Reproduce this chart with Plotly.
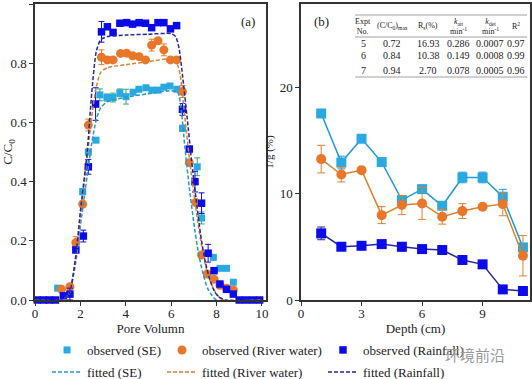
import plotly.graph_objects as go

# ---------------- Panel (a): breakthrough curves ----------------
pv_se = [1.0, 1.8, 2.1, 2.35, 2.69, 2.86, 3.17, 3.44, 3.74, 4.01, 4.32, 4.58, 4.89, 5.15,
         5.42, 5.68, 5.95, 6.25, 6.5, 7.15, 7.34, 7.86, 8.15, 8.44, 8.74]
c_se = [0.04, 0.18, 0.366, 0.50, 0.54, 0.693, 0.684, 0.684, 0.700, 0.687, 0.702, 0.712, 0.717,
        0.709, 0.709, 0.719, 0.723, 0.712, 0.58, 0.45, 0.277, 0.144, 0.107, 0.107, 0.06]
e_se = [0.0, 0.0, 0.01, 0.0, 0.0, 0.02, 0.012, 0.015, 0.013, 0.025, 0.0, 0.0, 0.0, 0.0,
        0.0, 0.0, 0.0, 0.0, 0.01, 0.03, 0.02, 0.0, 0.0, 0.0, 0.0]

pv_rw = [1.17, 1.54, 1.8, 2.1, 2.35, 2.93, 3.19, 3.44, 3.77, 4.04, 4.3, 4.59, 4.87, 5.14,
         5.42, 5.68, 5.97, 6.24, 6.5, 6.8, 7.08, 7.34, 7.59, 7.89, 8.15, 8.44, 8.74]
c_rw = [0.036, 0.045, 0.194, 0.324, 0.591, 0.82, 0.811, 0.811, 0.833, 0.834, 0.825, 0.822,
        0.811, 0.861, 0.876, 0.845, 0.811, 0.811, 0.704, 0.464, 0.329, 0.152, 0.088, 0.07,
        0.05, 0.04, 0.034]
e_rw = [0.0, 0.0, 0.02, 0.01, 0.02, 0.025, 0.01, 0.0, 0.0, 0.0, 0.0, 0.01, 0.0, 0.02,
        0.0, 0.02, 0.0, 0.0, 0.02, 0.0, 0.0, 0.0, 0.0, 0.0, 0.0, 0.0, 0.0]

pv_rf = [0.1, 0.37, 0.63, 0.9, 1.25, 1.54, 1.8, 2.13, 2.35, 2.67, 2.93, 3.19, 3.44, 3.74,
         4.04, 4.3, 4.59, 4.87, 5.14, 5.42, 5.68, 5.97, 6.24, 6.5, 6.8, 7.05, 7.34, 7.63,
         7.89, 8.15, 8.44, 8.74, 9.0, 9.3, 9.6, 9.9]
c_rf = [0.0, 0.0, 0.0, 0.0, 0.014, 0.02, 0.169, 0.216, 0.45, 0.662, 0.906, 0.923, 0.904,
        0.935, 0.937, 0.932, 0.937, 0.935, 0.92, 0.937, 0.937, 0.916, 0.927, 0.644, 0.51,
        0.40, 0.327, 0.158, 0.099, 0.054, 0.036, 0.02, 0.0, 0.0, 0.0, 0.0]
e_rf = [0.0, 0.0, 0.0, 0.0, 0.0, 0.02, 0.0, 0.02, 0.025, 0.055, 0.035, 0.0, 0.0, 0.0,
        0.0, 0.0, 0.01, 0.0, 0.0, 0.0, 0.0, 0.0, 0.0, 0.02, 0.0, 0.035, 0.035, 0.03,
        0.0, 0.0, 0.0, 0.0, 0.0, 0.0, 0.0, 0.0]

fit_x_se = [0, 1.2, 1.5, 1.8, 2.0, 2.3, 2.5, 2.7, 2.9, 3.2, 4.0, 5.0, 6.0, 6.3, 6.45, 6.6,
            6.8, 7.0, 7.2, 7.4, 7.6, 7.8, 8.0, 10.0]
fit_y_se = [0, 0, 0.02, 0.13, 0.25, 0.42, 0.53, 0.61, 0.65, 0.67, 0.685, 0.697, 0.707, 0.70,
            0.64, 0.52, 0.38, 0.26, 0.16, 0.09, 0.04, 0.015, 0.0, 0.0]
fit_x_rw = [0, 1.2, 1.5, 1.8, 2.0, 2.3, 2.5, 2.7, 2.9, 3.2, 4.0, 5.0, 6.0, 6.25, 6.4, 6.6,
            6.8, 7.0, 7.2, 7.4, 7.6, 7.8, 8.0, 8.3, 10.0]
fit_y_rw = [0, 0, 0.02, 0.14, 0.28, 0.48, 0.62, 0.72, 0.77, 0.785, 0.795, 0.805, 0.815, 0.80,
            0.76, 0.62, 0.48, 0.36, 0.25, 0.16, 0.09, 0.05, 0.02, 0.0, 0.0]
fit_x_rf = [0, 1.2, 1.5, 1.8, 2.0, 2.3, 2.5, 2.7, 2.9, 3.2, 4.0, 5.0, 6.0, 6.2, 6.35, 6.5,
            6.7, 6.9, 7.1, 7.3, 7.5, 7.7, 7.9, 8.1, 8.4, 10.0]
fit_y_rf = [0, 0, 0.02, 0.15, 0.30, 0.50, 0.70, 0.84, 0.88, 0.89, 0.895, 0.898, 0.90, 0.89,
            0.85, 0.76, 0.62, 0.47, 0.34, 0.22, 0.13, 0.07, 0.03, 0.01, 0.0, 0.0]

# ---------------- Panel (b): profiles ----------------
depth = [1, 2, 3, 4, 5, 6, 7, 8, 9, 10, 11]
g_se = [17.58, 12.96, 15.2, 13.0, 9.42, 10.45, 8.88, 11.55, 11.55, 9.73, 4.96]
ge_se = [0, 0.6, 0, 0, 0, 0, 0, 0.5, 0.5, 0.7, 0]
g_rw = [13.28, 11.83, 12.24, 8.0, 8.95, 9.1, 7.85, 8.38, 8.79, 9.04, 4.17]
ge_rw = [1.3, 0.7, 0, 0.8, 0.9, 1.5, 0.7, 0.7, 0, 1.1, 1.9]
g_rf = [6.28, 5.02, 5.11, 5.27, 5.02, 4.8, 4.71, 3.77, 3.36, 1.0, 0.85]
ge_rf = [0.6, 0, 0, 0.3, 0.4, 0, 0, 0, 0, 0, 0]

# table
tbl_header = ["Expt<br>No.", "(C/C<sub>0</sub>)<sub>max</sub>", "R<sub>s</sub>(%)",
              "<i>k</i><sub>att</sub><br>min<sup>-1</sup>", "<i>k</i><sub>det</sub><br>min<sup>-1</sup>",
              "R<sup>2</sup>"]
tbl_rows = [["5", "0.72", "16.93", "0.286", "0.0007", "0.97"],
            ["6", "0.84", "10.38", "0.149", "0.0008", "0.99"],
            ["7", "0.94", "2.70", "0.078", "0.0005", "0.96"]]

C_SE = "#2AA8E0"
C_RW = "#E8772A"
C_RF = "#0B0BEA"
C_SE_FIT = "#1E9AD6"
C_RW_FIT = "#D9832E"
C_RF_FIT = "#25259E"
C_SE_ERR = "#34A56E"
FONT = "Liberation Serif"
DASH = "4px,2px"

W, H = 532, 379
ML, MR, MT, MB = 35, 2, 4, 79
PW, PH = W - ML - MR, H - MT - MB


def px(x):
    return (x - ML) / PW


def py(y):
    return (H - MB - y) / PH


fig = go.Figure()

fig.add_trace(go.Scatter(x=pv_se, y=c_se, mode="markers", name="observed (SE)",
                         marker=dict(symbol="square", size=7, color=C_SE),
                         error_y=dict(type="data", array=e_se, color=C_SE_ERR, thickness=1, width=3),
                         cliponaxis=False, legend="legend", xaxis="x", yaxis="y"))
fig.add_trace(go.Scatter(x=pv_rw, y=c_rw, mode="markers", name="observed (River water)",
                         marker=dict(symbol="circle", size=9, color=C_RW),
                         error_y=dict(type="data", array=e_rw, color=C_RW, thickness=1, width=3),
                         cliponaxis=False, legend="legend2", xaxis="x", yaxis="y"))
fig.add_trace(go.Scatter(x=pv_rf, y=c_rf, mode="markers", name="observed (Rainfall)",
                         marker=dict(symbol="square", size=7.5, color=C_RF),
                         error_y=dict(type="data", array=e_rf, color=C_RF, thickness=1, width=3),
                         cliponaxis=False, legend="legend3", xaxis="x", yaxis="y"))
fig.add_trace(go.Scatter(x=fit_x_se, y=fit_y_se, mode="lines", name="fitted (SE)",
                         line=dict(color=C_SE_FIT, dash=DASH, width=1.5, shape="spline", smoothing=0.6),
                         legend="legend4", xaxis="x", yaxis="y"))
fig.add_trace(go.Scatter(x=fit_x_rw, y=fit_y_rw, mode="lines", name="fitted (River water)",
                         line=dict(color=C_RW_FIT, dash=DASH, width=1.5, shape="spline", smoothing=0.6),
                         legend="legend5", xaxis="x", yaxis="y"))
fig.add_trace(go.Scatter(x=fit_x_rf, y=fit_y_rf, mode="lines", name="fitted (Rainfall)",
                         line=dict(color=C_RF_FIT, dash=DASH, width=1.5, shape="spline", smoothing=0.6),
                         legend="legend6", xaxis="x", yaxis="y"))

fig.add_trace(go.Scatter(x=depth, y=g_se, mode="lines+markers", showlegend=False,
                         line=dict(color=C_SE_FIT, width=1.5),
                         marker=dict(symbol="square", size=10, color=C_SE),
                         error_y=dict(type="data", array=ge_se, color=C_SE_FIT, thickness=1, width=4),
                         xaxis="x2", yaxis="y2"))
fig.add_trace(go.Scatter(x=depth, y=g_rw, mode="lines+markers", showlegend=False,
                         line=dict(color=C_RW_FIT, width=1.5),
                         marker=dict(symbol="circle", size=10, color=C_RW),
                         error_y=dict(type="data", array=ge_rw, color=C_RW_FIT, thickness=1, width=4),
                         xaxis="x2", yaxis="y2"))
fig.add_trace(go.Scatter(x=depth, y=g_rf, mode="lines+markers", showlegend=False,
                         line=dict(color=C_RF_FIT, width=1.5),
                         marker=dict(symbol="square", size=10, color=C_RF),
                         error_y=dict(type="data", array=ge_rf, color=C_RF_FIT, thickness=1, width=4),
                         xaxis="x2", yaxis="y2"))

axis_common = dict(showline=True, linecolor="#333333", linewidth=1.5, mirror=True,
                   ticks="outside", ticklen=4, tickcolor="#333333", showgrid=False, zeroline=False,
                   tickfont=dict(family=FONT, size=13, color="#222"), automargin=False)

fig.update_layout(
    width=W, height=H, margin=dict(l=ML, r=MR, t=MT, b=MB, autoexpand=False),
    paper_bgcolor="white", plot_bgcolor="white",
    font=dict(family=FONT, size=13, color="#222"),
    xaxis=dict(domain=[0, px(266)], range=[0, 10.18], tickvals=[0, 2, 4, 6, 8, 10],
               ticklabelstandoff=-3,
               title=dict(text="Pore Volumn", font=dict(family=FONT, size=13), standoff=0),
               anchor="y", **axis_common),
    yaxis=dict(domain=[0, 1], range=[0, 1.0], tickvals=[0, 0.2, 0.4, 0.6, 0.8, 1.0],
               tickformat=".1f",
               title=dict(text="C/C<sub>0</sub>", font=dict(family=FONT, size=13), standoff=4),
               anchor="x", **axis_common),
    xaxis2=dict(domain=[px(301), 1], range=[0, 11.35], tickvals=[0, 3, 6, 9],
                ticklabelstandoff=-3,
                title=dict(text="Depth (cm)", font=dict(family=FONT, size=13), standoff=0),
                anchor="y2", **axis_common),
    yaxis2=dict(domain=[0, 1], range=[0, 27.9], tickvals=[0, 10, 20],
                title=dict(text="1/g (%)", font=dict(family=FONT, size=11), standoff=4),
                anchor="x2", **axis_common),
)

leg_pos = {"legend": (47, 350), "legend2": (162, 350), "legend3": (323, 350),
           "legend4": (47, 372), "legend5": (162, 372), "legend6": (323, 372)}
for k, (lx, ly) in leg_pos.items():
    fig.update_layout({k: dict(xref="paper", yref="paper", x=px(lx), y=py(ly),
                               xanchor="left", yanchor="middle", bgcolor="rgba(0,0,0,0)",
                               orientation="h",
                               font=dict(family=FONT, size=13, color="#222"),
                               itemwidth=30, tracegroupgap=0)})


def note(text, x, y, size, color="#222", family=FONT):
    return dict(text=text, x=px(x), y=py(y), xref="paper", yref="paper", showarrow=False,
                xanchor="center", yanchor="middle",
                font=dict(family=family, size=size, color=color))


ann = [note("(a)", 248, 21, 13), note("(b)", 321, 21, 13)]

col_x = [363, 392, 428, 458, 490, 516]
for cx, txt in zip(col_x, tbl_header):
    ann.append(note(txt, cx, 26, 8))
for ry, row in zip([43, 56, 70], tbl_rows):
    for cx, txt in zip(col_x, row):
        ann.append(note(txt, cx, ry, 10))

ann.append(note("环境前沿", 475, 354, 15, color="#9a9a9a", family="Noto Sans CJK SC"))
fig.update_layout(annotations=ann)

shapes = []
for ly in [15, 37, 77]:
    shapes.append(dict(type="line", xref="paper", yref="paper", x0=px(355), x1=px(527),
                       y0=py(ly), y1=py(ly), line=dict(color="#888", width=0.8)))
fig.update_layout(shapes=shapes)

fig.write_html("out.html", config={"displayModeBar": False},
               post_script="document.body.style.margin='0';document.body.style.padding='0';")
